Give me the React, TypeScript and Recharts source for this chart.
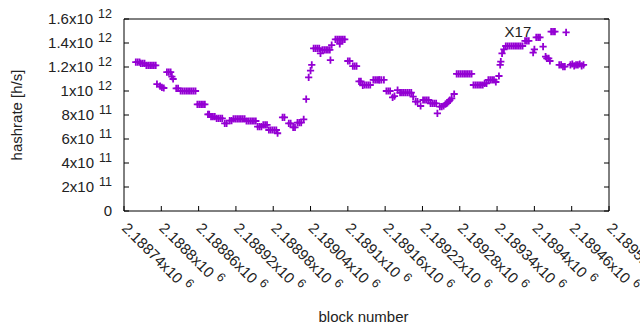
import React from 'react'
import { ScatterChart, Scatter, XAxis, YAxis, ReferenceDot, Label } from 'recharts'

const FONT = "'Liberation Sans', Arial, sans-serif"
const PURPLE = '#9400d3'

// block numbers (x) and hashrate in units of 1e12 h/s (y)
const blockNumbers = [
  2188759, 2188762, 2188765, 2188767, 2188770, 2188773, 2188776, 2188779, 2188782, 2188785, 2188788, 2188791,
  2188793, 2188798, 2188801, 2188804, 2188809, 2188812, 2188815, 2188817, 2188819, 2188824, 2188827,
  2188831, 2188834, 2188837, 2188840, 2188843, 2188846, 2188849, 2188852, 2188855,
  2188858, 2188861, 2188864, 2188867, 2188870, 2188875, 2188877, 2188880, 2188883, 2188886,
  2188889, 2188892, 2188895, 2188898, 2188902, 2188905, 2188910, 2188913,
  2188916, 2188919, 2188922, 2188925, 2188928, 2188931, 2188934,
  2188937, 2188940, 2188943, 2188946, 2188949, 2188952, 2188955, 2188958, 2188961,
  2188964, 2188967, 2188970, 2188973, 2188976, 2188979, 2188982, 2188985, 2188987,
  2188995, 2188998, 2189005, 2189008, 2189012, 2189015, 2189019, 2189022, 2189025, 2189029,
  2189033, 2189037, 2189040, 2189042, 2189045, 2189048, 2189051, 2189054, 2189056,
  2189059, 2189062, 2189065, 2189068, 2189071, 2189072, 2189074,
  2189080, 2189083, 2189086, 2189087, 2189089, 2189092, 2189095, 2189100, 2189103, 2189108, 2189111, 2189114,
  2189118, 2189121, 2189124, 2189127, 2189130, 2189133, 2189136, 2189141, 2189144, 2189147, 2189150, 2189151,
  2189154, 2189158, 2189162, 2189165, 2189168, 2189172, 2189175, 2189180, 2189184, 2189187, 2189190, 2189193, 2189196,
  2189199, 2189202, 2189205, 2189209, 2189212, 2189217, 2189221, 2189224, 2189227, 2189230,
  2189233, 2189236, 2189239, 2189242, 2189244, 2189248, 2189251, 2189254, 2189257, 2189260, 2189262, 2189264, 2189267, 2189271,
  2189275, 2189278, 2189281, 2189284, 2189287, 2189290, 2189293, 2189296, 2189299,
  2189302, 2189305, 2189308, 2189311, 2189314, 2189317, 2189320, 2189323, 2189326, 2189329, 2189332, 2189335, 2189338, 2189343,
  2189345, 2189346, 2189348, 2189351, 2189354, 2189357, 2189360, 2189363, 2189366, 2189369, 2189372, 2189375, 2189378, 2189381,
  2189385, 2189388, 2189391, 2189398, 2189400, 2189403, 2189406, 2189409, 2189414, 2189418, 2189420, 2189423, 2189425,
  2189427, 2189430, 2189433, 2189440, 2189443, 2189446, 2189449, 2189451,
  2189458, 2189461, 2189464, 2189467, 2189470, 2189473, 2189476, 2189479,
]

const hashrateT = [
  1.24, 1.24, 1.24, 1.23, 1.23, 1.23, 1.214, 1.214, 1.214, 1.214, 1.214, 1.214,
  1.058, 1.04, 1.03, 1.025, 1.158, 1.158, 1.158, 1.12, 1.1, 1.022, 1.022,
  1.0, 1.0, 1.0, 1.0, 1.0, 1.0, 1.0, 1.0, 1.0,
  0.889, 0.889, 0.889, 0.889, 0.889, 0.806, 0.806, 0.786, 0.786, 0.786,
  0.772, 0.772, 0.772, 0.772, 0.731, 0.731, 0.753, 0.753,
  0.767, 0.767, 0.767, 0.767, 0.767, 0.767, 0.767,
  0.75, 0.75, 0.75, 0.75, 0.75, 0.75, 0.703, 0.703, 0.703,
  0.717, 0.717, 0.717, 0.675, 0.675, 0.675, 0.675, 0.675, 0.648,
  0.781, 0.781, 0.731, 0.731, 0.697, 0.697, 0.736, 0.736, 0.736, 0.764,
  0.933, 1.114, 1.169, 1.217, 1.356, 1.356, 1.356, 1.356, 1.314,
  1.342, 1.342, 1.342, 1.342, 1.342, 1.258, 1.383,
  1.431, 1.431, 1.431, 1.392, 1.431, 1.431, 1.431, 1.25, 1.25, 1.208, 1.208, 1.208,
  1.081, 1.081, 1.047, 1.05, 1.05, 1.05, 1.05, 1.092, 1.092, 1.092, 1.092, 1.092,
  1.092, 1.092, 1.0, 1.0, 1.0, 0.947, 0.958, 1.008, 0.986, 0.986, 0.986, 0.986, 0.986,
  0.986, 0.986, 0.953, 0.911, 0.911, 0.875, 0.925, 0.925, 0.925, 0.925,
  0.897, 0.897, 0.897, 0.897, 0.814, 0.869, 0.869, 0.875, 0.89, 0.9, 0.911, 0.925, 0.939, 0.975,
  1.142, 1.142, 1.142, 1.142, 1.142, 1.142, 1.142, 1.142, 1.142,
  1.05, 1.05, 1.05, 1.05, 1.05, 1.05, 1.064, 1.064, 1.092, 1.092, 1.092, 1.092, 1.075, 1.125,
  1.217, 1.244, 1.314, 1.347, 1.375, 1.375, 1.375, 1.375, 1.375, 1.375, 1.375, 1.375, 1.375, 1.375,
  1.417, 1.417, 1.417, 1.319, 1.347, 1.447, 1.447, 1.447, 1.369, 1.286, 1.272, 1.272, 1.25,
  1.494, 1.494, 1.494, 1.217, 1.217, 1.203, 1.203, 1.489,
  1.217, 1.225, 1.21, 1.217, 1.217, 1.225, 1.21, 1.217,
]

const xTicks = [
  2188740, 2188800, 2188860, 2188920, 2188980, 2189040, 2189100,
  2189160, 2189220, 2189280, 2189340, 2189400, 2189460, 2189520,
]
const yTicks = [0, 2e11, 4e11, 6e11, 8e11, 1e12, 1.2e12, 1.4e12, 1.6e12]

const annotations = [{ block: 2189352, hashrate: 1.494e12, text: 'X17' }]

const data = blockNumbers.map((b, i) => ({ block: b, hashrate: hashrateT[i] * 1e12 }))

const sci = (v: number) => {
  if (v === 0) return { base: '0', exp: '' }
  const e = Math.floor(Math.log10(v) + 1e-9)
  const m = parseFloat((v / Math.pow(10, e)).toFixed(5))
  return { base: `${m}x10`, exp: String(e) }
}

const Plus = (props: any) => {
  const { cx, cy } = props
  if (cx == null || cy == null) return null
  return (
    <path
      d={`M${cx - 3.6},${cy}H${cx + 3.6}M${cx},${cy - 3.6}V${cy + 3.6}`}
      stroke={PURPLE}
      strokeWidth={1.8}
      fill="none"
    />
  )
}

const LeftTick = (props: any) => {
  const { x, y, payload } = props
  const { base, exp } = sci(payload.value)
  return (
    <g>
      <line x1={x} y1={y} x2={x + 5} y2={y} stroke="#000" />
      <text x={x - 12} y={y + 5} textAnchor="end" fontSize={15} fill="#222" fontFamily={FONT}>
        {base}
        {exp && (
          <tspan dx={5} dy={-6} fontSize={12.5}>
            {exp}
          </tspan>
        )}
      </text>
    </g>
  )
}

const BottomTick = (props: any) => {
  const { x, y, payload } = props
  const { base, exp } = sci(payload.value)
  const tx = x - 3
  const ty = y + 18
  return (
    <g>
      <line x1={x} y1={y} x2={x} y2={y - 5} stroke="#000" />
      <text x={tx} y={ty} transform={`rotate(45 ${tx} ${ty})`} fontSize={15} fill="#222" fontFamily={FONT}>
        {base}
        <tspan dx={5} dy={-6} fontSize={12.5}>
          {exp}
        </tspan>
      </text>
    </g>
  )
}

const TopTick = (props: any) => {
  const { x, y } = props
  return <line x1={x} y1={y} x2={x} y2={y + 5} stroke="#000" />
}

const RightTick = (props: any) => {
  const { x, y } = props
  return <line x1={x} y1={y} x2={x - 5} y2={y} stroke="#000" />
}

export default function App() {
  return (
    <div style={{ position: 'absolute', left: 0, top: 0, width: 640, height: 330, background: '#fff' }}>
      <ScatterChart width={640} height={330} margin={{ top: 0, right: 0, bottom: 0, left: 0 }}>
        <XAxis
          xAxisId={0}
          type="number"
          dataKey="block"
          domain={[2188740, 2189520]}
          ticks={xTicks}
          interval={0}
          height={119}
          tickSize={0}
          tickMargin={0}
          tick={<BottomTick />}
          axisLine={{ stroke: '#000' }}
          allowDataOverflow
        >
          <Label
            content={(p: any) => (
              <text
                x={p.viewBox.x + p.viewBox.width / 2 - 3}
                y={p.viewBox.y + 111}
                textAnchor="middle"
                fontSize={15}
                fill="#222"
                fontFamily={FONT}
              >
                block number
              </text>
            )}
          />
        </XAxis>
        <XAxis
          xAxisId="top"
          orientation="top"
          type="number"
          domain={[2188740, 2189520]}
          ticks={xTicks}
          interval={0}
          height={19}
          tickSize={0}
          tickMargin={0}
          tick={<TopTick />}
          axisLine={{ stroke: '#000' }}
          allowDataOverflow
        />
        <YAxis
          yAxisId={0}
          type="number"
          dataKey="hashrate"
          domain={[0, 1.6e12]}
          ticks={yTicks}
          interval={0}
          width={124}
          tickSize={0}
          tickMargin={0}
          tick={<LeftTick />}
          axisLine={{ stroke: '#000' }}
          allowDataOverflow
        >
          <Label
            content={(p: any) => {
              const cx = p.viewBox.x + 22
              const cy = p.viewBox.y + p.viewBox.height / 2
              return (
                <text
                  x={cx}
                  y={cy}
                  transform={`rotate(-90 ${cx} ${cy})`}
                  textAnchor="middle"
                  fontSize={15}
                  fill="#222"
                  fontFamily={FONT}
                >
                  hashrate [h/s]
                </text>
              )
            }}
          />
        </YAxis>
        <YAxis
          yAxisId="right"
          orientation="right"
          type="number"
          domain={[0, 1.6e12]}
          ticks={yTicks}
          interval={0}
          width={31}
          tickSize={0}
          tickMargin={0}
          tick={<RightTick />}
          axisLine={{ stroke: '#000' }}
          allowDataOverflow
        />
        <Scatter
          xAxisId={0}
          yAxisId={0}
          data={data}
          dataKey="hashrate"
          shape={<Plus />}
          isAnimationActive={false}
        />
        {annotations.map((a) => (
          <ReferenceDot
            key={a.text}
            xAxisId={0}
            yAxisId={0}
            x={a.block}
            y={a.hashrate}
            r={0}
            fill="none"
            stroke="none"
            label={(p: any) => (
              <text
                x={p.viewBox.x}
                y={p.viewBox.y + 5}
                fontSize={15}
                fill="#222"
                fontFamily={FONT}
              >
                {a.text}
              </text>
            )}
          />
        ))}
      </ScatterChart>
    </div>
  )
}
